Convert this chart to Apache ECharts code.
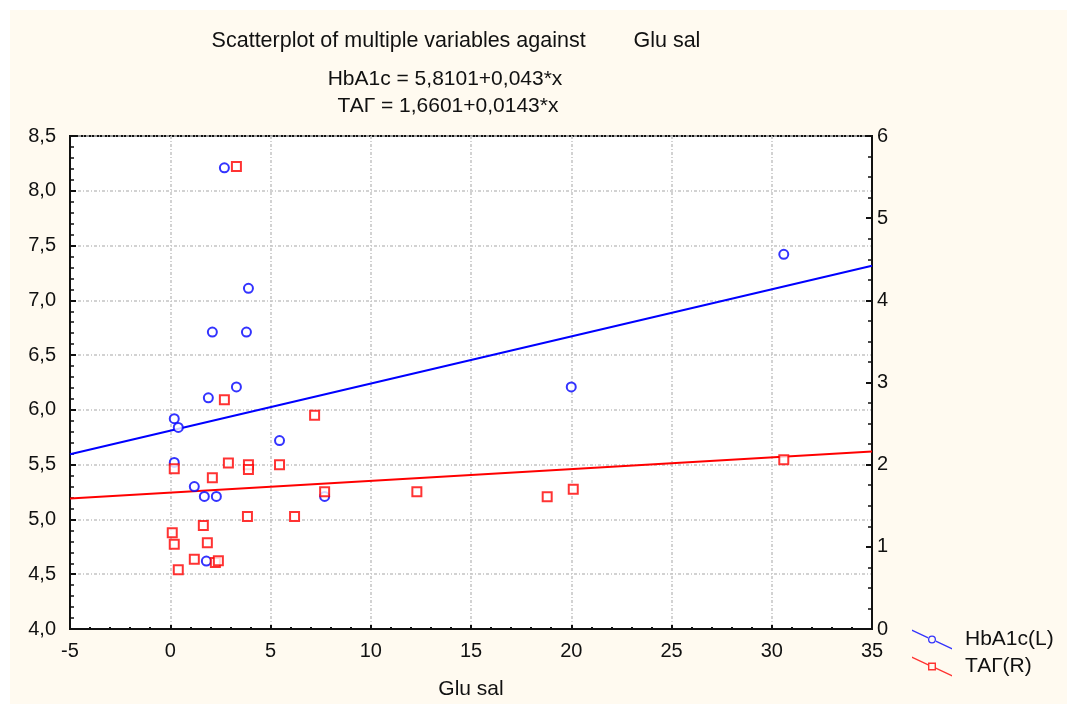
<!DOCTYPE html>
<html>
<head>
<meta charset="utf-8">
<script src="https://cdn.jsdelivr.net/npm/echarts@6/dist/echarts.min.js"></script>
<style>
  html, body { margin: 0; padding: 0; background: #ffffff; }
  #chart { position: absolute; left: 10px; top: 10px; width: 1057px; height: 694px; background: #fffaf0; }
</style>
</head>
<body>
<div id="chart"></div>
<script>
// values
var hbaX = [2.7, 3.9, 2.1, 3.8, 3.3, 1.9, 0.2, 0.4, 5.45, 0.2, 1.2, 1.7, 2.3, 7.7, 1.8, 20.0, 30.6];
var hbaY = [8.21, 7.11, 6.71, 6.71, 6.21, 6.11, 5.92, 5.84, 5.72, 5.52, 5.3, 5.21, 5.21, 5.21, 4.62, 6.21, 7.42];

var tagX = [3.3, 2.7, 7.2, 2.9, 3.9, 3.9, 5.45, 0.2, 2.1, 7.7, 3.85, 6.2, 1.65, 0.1, 0.2, 1.85, 1.2, 2.25, 2.4, 0.4, 12.3, 18.8, 20.1, 30.6];
var tagY = [5.63, 2.79, 2.6, 2.02, 2.0, 1.94, 2.0, 1.95, 1.84, 1.67, 1.37, 1.37, 1.26, 1.17, 1.03, 1.05, 0.85, 0.81, 0.83, 0.72, 1.67, 1.61, 1.70, 2.06];

// fitted lines, end points at x = -5 and x = 35
var fitX = [-5, 35];
var hbaFitY = [5.595, 7.315];
var tagFitY = [1.589, 2.160];

var titleLines = [
  'Scatterplot of multiple variables against        Glu sal',
  'HbA1c = 5,8101+0,043*x',
  'ТАГ = 1,6601+0,0143*x'
];

function pairs(xs, ys) {
  var out = [];
  for (var i = 0; i < xs.length; i++) out.push([xs[i], ys[i]]);
  return out;
}

var FONT = '"Liberation Sans", Arial, sans-serif';

var circleIcon = 'path://M0,0 L16,7.5 L16,8.9 L0,1.4 Z ' +
  'M24,10 A4,4 0 1,0 16,10 A4,4 0 1,0 24,10 Z M22.7,10 A2.7,2.7 0 1,1 17.3,10 A2.7,2.7 0 1,1 22.7,10 Z ' +
  'M24,11.1 L40,18.6 L40,20 L24,12.5 Z';
var squareIcon = 'path://M0,0 L16,7.5 L16,8.9 L0,1.4 Z ' +
  'M16,6 L24,6 L24,14 L16,14 Z M17.4,7.4 L17.4,12.6 L22.6,12.6 L22.6,7.4 Z ' +
  'M24,11.1 L40,18.6 L40,20 L24,12.5 Z';

var gridLine = { show: true, lineStyle: { color: '#c4c4c4', width: 1.5, type: [3, 2, 1, 2] } };
var axisLine = { show: true, onZero: false, lineStyle: { color: '#111', width: 2 } };

var chart = echarts.init(document.getElementById('chart'));

var option = {
  backgroundColor: '#fffaf0',
  animation: false,
  textStyle: { fontFamily: FONT },
  title: titleLines.map(function (t, i) {
    return {
      text: t,
      left: [441, 430, 433][i],
      top: [15, 54, 81][i],
      textAlign: 'center',
      textStyle: { fontFamily: FONT, fontSize: [21.5, 21, 21][i], fontWeight: 'normal', color: '#111' }
    };
  }),
  legend: {
    orient: 'vertical',
    left: 902,
    top: 619,
    padding: 0,
    itemWidth: 40,
    itemHeight: 20,
    itemGap: 6,
    textStyle: { fontFamily: FONT, fontSize: 21, color: '#111', padding: [0, 0, 0, 8] },
    data: [
      { name: 'HbA1c(L)', icon: circleIcon, itemStyle: { color: '#0000ff', borderWidth: 0 } },
      { name: 'ТАГ(R)', icon: squareIcon, itemStyle: { color: '#ff0000', borderWidth: 0 } }
    ]
  },
  grid: {
    left: 60, top: 126, right: 195, bottom: 75,
    outerBoundsMode: 'none',
    show: true, backgroundColor: '#ffffff', borderColor: '#111', borderWidth: 2
  },
  xAxis: {
    type: 'value', min: -5, max: 35, interval: 5,
    name: 'Glu sal', nameLocation: 'middle', nameGap: 50,
    nameTextStyle: { fontFamily: FONT, fontSize: 21, color: '#111' },
    axisLine: axisLine,
    axisTick: { show: true, inside: true, length: 4, lineStyle: { color: '#111', width: 2 } },
    minorTick: { show: true, splitNumber: 5, length: 2, lineStyle: { color: '#111', width: 2 } },
    axisLabel: { fontFamily: FONT, fontSize: 20, color: '#111', margin: 12 },
    splitLine: gridLine
  },
  yAxis: [
    {
      type: 'value', min: 4, max: 8.5, interval: 0.5, position: 'left',
      axisLine: axisLine,
      axisTick: { show: true, inside: true, length: 6, lineStyle: { color: '#111', width: 2 } },
      minorTick: { show: true, splitNumber: 5, length: 4, lineStyle: { color: '#111', width: 1.5 } },
      axisLabel: {
        fontFamily: FONT, fontSize: 20, color: '#111', margin: 14,
        formatter: function (v) { return v.toFixed(1).replace('.', ','); }
      },
      splitLine: gridLine
    },
    {
      type: 'value', min: 0, max: 6, interval: 1, position: 'right',
      axisLine: axisLine,
      axisTick: { show: true, inside: true, length: 6, lineStyle: { color: '#111', width: 2 } },
      minorTick: { show: true, splitNumber: 4, length: 4, lineStyle: { color: '#111', width: 1.5 } },
      axisLabel: { fontFamily: FONT, fontSize: 20, color: '#111', margin: 5 },
      splitLine: { show: false }
    }
  ],
  series: [
    {
      name: 'HbA1c fit', type: 'line', yAxisIndex: 0, data: pairs(fitX, hbaFitY),
      showSymbol: false, silent: true, z: 2,
      lineStyle: { color: '#0000ff', width: 2 }
    },
    {
      name: 'ТАГ fit', type: 'line', yAxisIndex: 1, data: pairs(fitX, tagFitY),
      showSymbol: false, silent: true, z: 2,
      lineStyle: { color: '#ff0000', width: 2 }
    },
    {
      name: 'HbA1c(L)', type: 'scatter', yAxisIndex: 0, data: pairs(hbaX, hbaY),
      symbol: 'emptyCircle', symbolSize: 9, z: 3,
      itemStyle: { color: '#0000ff', borderColor: '#1a1aff', borderWidth: 1.8 }
    },
    {
      name: 'ТАГ(R)', type: 'scatter', yAxisIndex: 1, data: pairs(tagX, tagY),
      symbol: 'emptyRect', symbolSize: 9, z: 3,
      itemStyle: { color: '#ff0000', borderColor: '#ff1a1a', borderWidth: 1.8 }
    }
  ]
};

chart.setOption(option);
</script>
</body>
</html>
